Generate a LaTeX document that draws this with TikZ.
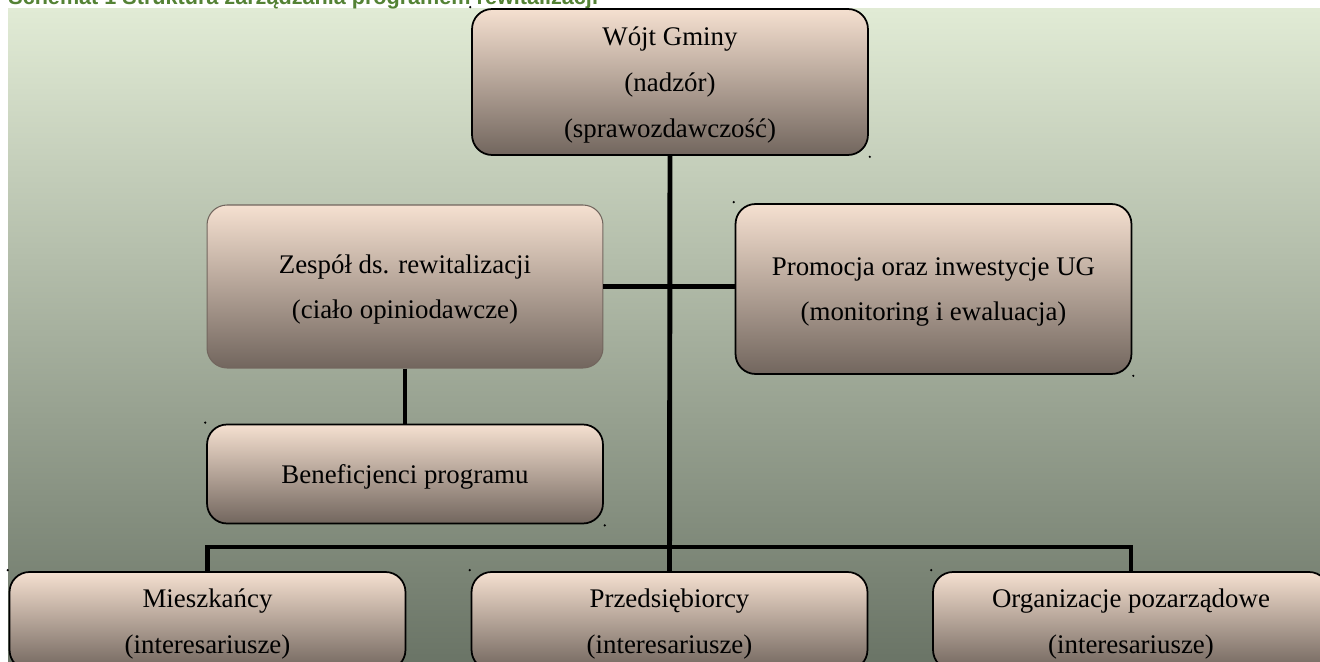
\documentclass[tikz,border=0pt]{standalone}
\usepackage{fontspec}
\setmainfont{Liberation Serif}
\newfontfamily\naglowek{Liberation Sans}
\definecolor{tloGora}{RGB}{225,235,213}
\definecolor{tloSrodek}{RGB}{165,178,154}
\definecolor{tloDol}{RGB}{106,116,102}
\definecolor{blokGora}{RGB}{245,224,208}
\definecolor{blokDol}{RGB}{114,102,94}
\definecolor{zielen}{RGB}{84,130,53}
\begin{document}
\begin{tikzpicture}[x=0.02cm, y=-0.02cm,
	blok/.style={rounded corners=0.4cm, draw=black, line width=1pt,
		top color=blokGora, bottom color=blokDol, minimum width=7.92cm,
		inner sep=0pt, align=center, text depth=0pt,
		font=\fontsize{15.3}{26}\selectfont},
	linia/.style={line width=2.8pt, draw=black},
	kropka/.style={fill=black}]
	\useasboundingbox (0,0) rectangle (1320,662);
	% Tlo i tytul
	\shade[top color=tloGora, middle color=tloSrodek, bottom color=tloDol]
	(8,9) rectangle (1320,662);
	\node[anchor=base west, inner sep=0pt, text=zielen,
	font=\naglowek\bfseries\fontsize{12.3}{14}\selectfont] (tytul) at (8,5)
	{Schemat 1 Struktura zarządzania programem rewitalizacji};
	% Bloki
	\node[blok, minimum height=2.92cm] (wojt) at (670, 82)
	{Wójt Gminy\\(nadzór)\\(sprawozdawczość)};
	\node[blok, draw=blokDol, line width=0.6pt, minimum height=3.26cm] (zespol)
	at (405, 286.5) {Zespół ds. rewitalizacji\\(ciało opiniodawcze)};
	\node[blok, minimum height=3.4cm] (promocja) at (933.5, 289)
	{Promocja oraz inwestycje UG\\(monitoring i ewaluacja)};
	\node[blok, minimum height=1.98cm] (benef) at (405, 474)
	{Beneficjenci programu};
	\node[blok, minimum height=1.96cm] (mieszk) at (207.5, 621)
	{Mieszkańcy\\(interesariusze)};
	\node[blok, minimum height=1.96cm] (przeds) at (669.5, 621)
	{Przedsiębiorcy\\(interesariusze)};
	\node[blok, minimum height=1.96cm] (organiz) at (1131, 621)
	{Organizacje pozarządowe\\(interesariusze)};
	% Polaczenia
	\draw[linia] (wojt.south) -- (przeds.north);
	\draw[linia] (zespol.east) -- (zespol.east -| promocja.west);
	\draw[linia] (zespol.south) -- (benef.north);
	\coordinate (szyna) at (670, 547);
	\draw[linia] (mieszk.north) |- (szyna) -| (organiz.north);
	% Kropki przy rogach
	\foreach \n in {wojt, promocja, benef}
	{
		\fill[kropka] (\n.north west) ++(-1,-1) circle (0.7pt);
		\fill[kropka] (\n.south east) ++(1,1) circle (0.7pt);
	}
	\foreach \n in {mieszk, przeds, organiz}
		\fill[kropka] (\n.north west) ++(-1,-1) circle (0.7pt);
\end{tikzpicture}
\end{document}
